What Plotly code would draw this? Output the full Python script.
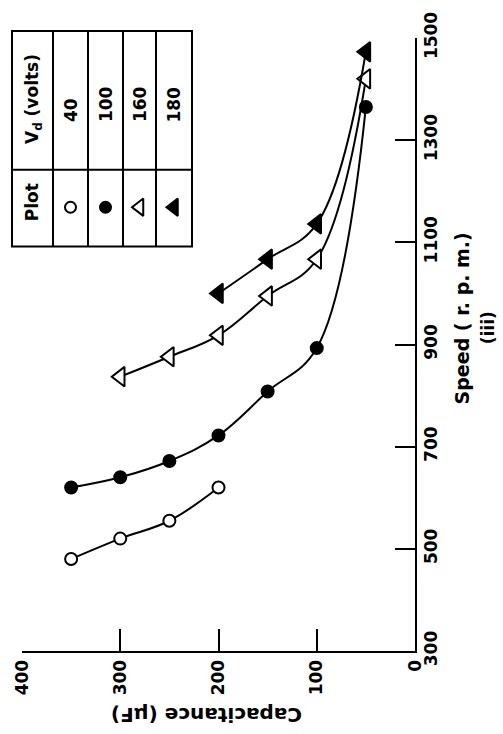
import plotly.graph_objects as go

# Capacitance (uF) against speed (r.p.m.) for four values of Vd
cap_40 = [350, 300, 250, 200]
speed_40 = [480, 520, 555, 620]

cap_100 = [350, 300, 250, 200, 150, 100, 50]
speed_100 = [620, 640, 672, 722, 808, 893, 1365]

cap_160 = [300, 250, 200, 150, 100, 50]
speed_160 = [837, 876, 918, 995, 1067, 1420]

cap_180 = [200, 150, 100, 50]
speed_180 = [1000, 1067, 1136, 1473]

cap_ticks = [0, 100, 200, 300, 400]
speed_ticks = [300, 500, 700, 900, 1100, 1300, 1500]

vd_labels = ["40", "100", "160", "180"]

W, H = 503, 734
L, R, T, B = 22, 415, 28, 651  # plot area in pixels
FONT = "DejaVu Sans"

def fx(px):
    return (px - L) / (R - L)

def fy(py):
    return (B - py) / (B - T)

def cap_at(px):
    return 400 * (R - px) / (R - L)

def speed_at(py):
    return 300 + 1200 * (B - py) / (B - T)

fig = go.Figure()

series = [
    (cap_40, speed_40, "circle", "white"),
    (cap_100, speed_100, "circle", "black"),
    (cap_160, speed_160, "triangle-left", "white"),
    (cap_180, speed_180, "triangle-left", "black"),
]
sizes = {"circle": 12, "triangle-left": 17}

for cap, spd, sym, fill in series:
    fig.add_trace(go.Scatter(
        x=cap, y=spd, mode="lines+markers",
        line=dict(color="black", width=2, shape="spline", smoothing=1.1),
        marker=dict(symbol=sym, size=sizes[sym], color=fill,
                    line=dict(color="black", width=2)),
        showlegend=False, cliponaxis=False,
    ))

# key table: one column per series
col_edges = [12, 53, 88, 123, 156, 192]
row_top, row_mid, row_bot = 21, 162, 240
key_x = [(col_edges[i + 1] + col_edges[i + 2]) / 2 for i in range(4)]
for (cap, spd, sym, fill), kx in zip(series, key_x):
    fig.add_trace(go.Scatter(
        x=[cap_at(kx)], y=[speed_at(200)], mode="markers",
        marker=dict(symbol=sym, size=11 if sym == "circle" else 15, color=fill,
                    line=dict(color="black", width=2)),
        showlegend=False, cliponaxis=False,
    ))

shapes = [dict(type="rect", xref="paper", yref="paper",
               x0=fx(col_edges[0]), x1=fx(col_edges[-1]),
               y0=fy(row_bot), y1=fy(row_top),
               line=dict(color="black", width=2))]
for cx in col_edges[1:-1]:
    shapes.append(dict(type="line", xref="paper", yref="paper",
                       x0=fx(cx), x1=fx(cx), y0=fy(row_bot), y1=fy(row_top),
                       line=dict(color="black", width=2)))
shapes.append(dict(type="line", xref="paper", yref="paper",
                   x0=fx(col_edges[0]), x1=fx(col_edges[-1]),
                   y0=fy(row_mid), y1=fy(row_mid),
                   line=dict(color="black", width=2)))

tfont = dict(family=FONT, size=17, color="black", weight="bold")
annotations = [
    dict(text="Plot", x=fx(32), y=fy(195), textangle=-90),
    dict(text="V<sub>d</sub> (volts)", x=fx(33), y=fy(90), textangle=-90),
]
for lab, kx in zip(vd_labels, key_x):
    annotations.append(dict(text=lab, x=fx(kx), y=fy(116), textangle=-90,
                            yanchor="bottom"))
annotations += [
    dict(text="Capacitance (μF)", x=fx(207), y=fy(716), textangle=180,
         font=dict(family=FONT, size=20, color="black", weight="bold")),
    dict(text="Speed ( r. p. m.)", x=fx(462), y=fy(313), textangle=-90,
         font=dict(family=FONT, size=19, color="black", weight="bold")),
    dict(text="(iii)", x=fx(488), y=fy(323), textangle=-90,
         font=dict(family=FONT, size=17, color="black", weight="bold")),
]
for a in annotations:
    a.update(xref="paper", yref="paper", showarrow=False)
    a.setdefault("font", tfont)
    a.setdefault("xanchor", "center")
    a.setdefault("yanchor", "middle")

tick_font = dict(family=FONT, size=17, color="black", weight="bold")
fig.update_layout(
    width=W, height=H,
    margin=dict(l=L, r=W - R, t=T, b=H - B, pad=0),
    paper_bgcolor="white", plot_bgcolor="white",
    shapes=shapes, annotations=annotations,
    xaxis=dict(range=[400, 0], tickvals=cap_ticks,
               ticktext=[str(v) for v in cap_ticks],
               ticks="inside", ticklen=22, tickwidth=2, tickcolor="black",
               showline=True, linecolor="black", linewidth=2,
               showgrid=False, zeroline=False, tickangle=-90,
               tickfont=tick_font),
    yaxis=dict(range=[300, 1500], tickvals=speed_ticks,
               ticktext=[str(v) for v in speed_ticks], side="right",
               ticks="inside", ticklen=20, tickwidth=2, tickcolor="black",
               showline=True, linecolor="black", linewidth=2,
               showgrid=False, zeroline=False, tickangle=-90,
               tickfont=tick_font),
)

fig.write_html("out.html")
